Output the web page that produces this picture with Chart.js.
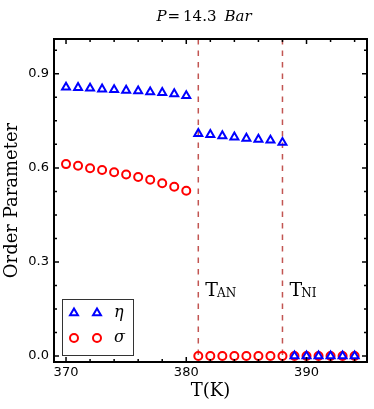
<!DOCTYPE html>
<html>
<head>
<meta charset="utf-8">
<script src="https://cdn.jsdelivr.net/npm/chart.js@4.4.1/dist/chart.umd.min.js"></script>
<style>
  html, body { margin: 0; padding: 0; background: #fff; }
</style>
</head>
<body>
<canvas id="orderChart" width="374" height="409"></canvas>
<script>
// temperatures (K)
const temps = [370, 371, 372, 373, 374, 375, 376, 377, 378, 379, 380,
               381, 382, 383, 384, 385, 386, 387, 388,
               389, 390, 391, 392, 393, 394];
// eta order parameter
const etaValues = [0.857, 0.856, 0.854, 0.851, 0.849, 0.847, 0.845, 0.842, 0.840, 0.836, 0.830,
                   0.709, 0.706, 0.702, 0.698, 0.694, 0.691, 0.688, 0.681,
                   0, 0, 0, 0, 0, 0];
// sigma order parameter
const sigmaValues = [0.612, 0.607, 0.599, 0.593, 0.586, 0.579, 0.571, 0.562, 0.551, 0.540, 0.527,
                     0, 0, 0, 0, 0, 0, 0, 0,
                     0, 0, 0, 0, 0, 0];

const xTickLabels = [370, 380, 390];
const xMinorTicks = [370, 372, 374, 376, 378, 380, 382, 384, 386, 388, 390, 392, 394];
const yTickLabels = [0, 0.3, 0.6, 0.9];
const yMinorTicks = [0, 0.075, 0.15, 0.225, 0.3, 0.375, 0.45, 0.525, 0.6, 0.675, 0.75, 0.825, 0.9, 0.975];

// transition temperatures and their subscripts
const transitionTemps = [381, 388];
const transitionNames = ["AN", "NI"];

const seriesNames = ["\u03b7", "\u03c3"];
const titleParts = [
    { text: "P", italic: true, gap: 1 },
    { text: "=", italic: false, gap: 3 },
    { text: "14.3", italic: false, gap: 8 },
    { text: "Bar", italic: true, gap: 0 }
];

const SERIF = "'DejaVu Serif', serif";

// dashed lines at the transitions + T labels
const transitionLines = {
    id: "transitionLines",
    beforeDatasetsDraw(chart) {
        const { ctx, chartArea: a, scales: { x, y } } = chart;
        ctx.save();
        ctx.strokeStyle = "#c25552";
        ctx.lineWidth = 1.5;
        ctx.setLineDash([5.5, 6]);
        transitionTemps.forEach(t => {
            const px = x.getPixelForValue(t);
            ctx.beginPath();
            ctx.moveTo(px, a.top);
            ctx.lineTo(px, a.bottom);
            ctx.stroke();
        });
        ctx.setLineDash([]);
        ctx.fillStyle = "#000";
        ctx.textBaseline = "alphabetic";
        ctx.textAlign = "left";
        const by = y.getPixelForValue(0.19);
        transitionTemps.forEach((t, i) => {
            const px = x.getPixelForValue(t) + 7;
            ctx.font = "19px " + SERIF;
            ctx.fillText("T", px, by);
            const w = ctx.measureText("T").width;
            ctx.font = "12px " + SERIF;
            ctx.fillText(transitionNames[i], px + w - 1, by + 1);
        });
        ctx.restore();
    }
};

// frame, inward ticks, title and legend
const frameAndLegend = {
    id: "frameAndLegend",
    afterDraw(chart) {
        const { ctx, chartArea: a, scales: { x, y } } = chart;
        ctx.save();
        ctx.strokeStyle = "#000";
        ctx.lineWidth = 1.5;
        ctx.beginPath();
        xMinorTicks.forEach(v => {
            const px = x.getPixelForValue(v);
            const len = xTickLabels.includes(v) ? 5 : 3;
            ctx.moveTo(px, a.bottom); ctx.lineTo(px, a.bottom - len);
            ctx.moveTo(px, a.top); ctx.lineTo(px, a.top + len);
        });
        yMinorTicks.forEach(v => {
            const py = y.getPixelForValue(v);
            const len = yTickLabels.some(t => Math.abs(t - v) < 1e-9) ? 5 : 3;
            ctx.moveTo(a.left, py); ctx.lineTo(a.left + len, py);
            ctx.moveTo(a.right, py); ctx.lineTo(a.right - len, py);
        });
        ctx.stroke();
        ctx.lineWidth = 2;
        ctx.strokeRect(a.left, a.top, a.right - a.left, a.bottom - a.top);

        // title
        ctx.fillStyle = "#000";
        ctx.textBaseline = "alphabetic";
        ctx.textAlign = "left";
        let total = 0;
        titleParts.forEach(p => {
            ctx.font = (p.italic ? "italic " : "") + "15px " + SERIF;
            total += ctx.measureText(p.text).width + p.gap;
        });
        let tx = 204 - total / 2;
        titleParts.forEach(p => {
            ctx.font = (p.italic ? "italic " : "") + "15px " + SERIF;
            ctx.fillText(p.text, tx, 21);
            tx += ctx.measureText(p.text).width + p.gap;
        });

        // legend box
        const bx = a.left + 8, byTop = a.bottom - 63, bw = 71, bh = 56;
        ctx.fillStyle = "#fff";
        ctx.fillRect(bx, byTop, bw, bh);
        ctx.strokeStyle = "#333";
        ctx.lineWidth = 1;
        ctx.strokeRect(bx + 0.5, byTop + 0.5, bw, bh);
        chart.data.datasets.forEach((ds, i) => {
            const ry = byTop + 14 + i * 25;
            ctx.strokeStyle = ds.borderColor;
            ctx.lineWidth = ds.pointBorderWidth;
            ctx.fillStyle = "rgba(0,0,0,0)";
            [12, 35].forEach(dx => {
                Chart.helpers.drawPoint(ctx, {
                    pointStyle: ds.pointStyle, radius: ds.pointRadius,
                    borderWidth: ds.pointBorderWidth, rotation: 0
                }, bx + dx, ry);
            });
            ctx.fillStyle = "#000";
            ctx.font = "italic 16px " + SERIF;
            ctx.textBaseline = "middle";
            ctx.fillText(ds.label, bx + 52, ry);
        });
        ctx.restore();
    }
};

new Chart(document.getElementById("orderChart"), {
    type: "scatter",
    data: {
        datasets: [
            {
                label: seriesNames[0],
                data: temps.map((t, i) => ({ x: t, y: etaValues[i] })),
                pointStyle: "triangle",
                pointRadius: 4.6,
                pointBorderWidth: 2,
                borderColor: "#0000ff",
                backgroundColor: "rgba(0,0,0,0)",
                clip: false
            },
            {
                label: seriesNames[1],
                data: temps.map((t, i) => ({ x: t, y: sigmaValues[i] })),
                pointStyle: "circle",
                pointRadius: 4,
                pointBorderWidth: 2,
                borderColor: "#ff0000",
                backgroundColor: "rgba(0,0,0,0)",
                clip: false
            }
        ]
    },
    options: {
        responsive: false,
        animation: false,
        events: [],
        layout: { padding: { top: 39, right: 7, left: 0, bottom: 0 } },
        plugins: {
            legend: { display: false },
            tooltip: { enabled: false },
            title: { display: false }
        },
        scales: {
            x: {
                type: "linear",
                min: 369,
                max: 395.03,
                grid: { display: false, drawTicks: false },
                border: { display: false },
                afterBuildTicks: s => { s.ticks = xTickLabels.map(v => ({ value: v })); },
                afterFit: s => { s.height = 47; },
                ticks: {
                    padding: 3,
                    color: "#000",
                    font: { family: "'DejaVu Sans', sans-serif", size: 13 },
                    callback: v => String(v)
                },
                title: {
                    display: true,
                    text: "T(K)",
                    color: "#000",
                    font: { family: SERIF, size: 18 },
                    padding: { top: 0, bottom: 7 }
                }
            },
            y: {
                type: "linear",
                min: -0.019,
                max: 1.011,
                grid: { display: false, drawTicks: false },
                border: { display: false },
                afterBuildTicks: s => { s.ticks = yTickLabels.map(v => ({ value: v })); },
                afterFit: s => { s.width = 54; },
                ticks: {
                    padding: 5,
                    color: "#000",
                    font: { family: "'DejaVu Sans', sans-serif", size: 13 },
                    callback: v => v.toFixed(1)
                },
                title: {
                    display: true,
                    text: "Order Parameter",
                    color: "#000",
                    font: { family: SERIF, size: 18 },
                    padding: { top: 2, bottom: 0 }
                }
            }
        }
    },
    plugins: [transitionLines, frameAndLegend]
});
</script>
</body>
</html>
